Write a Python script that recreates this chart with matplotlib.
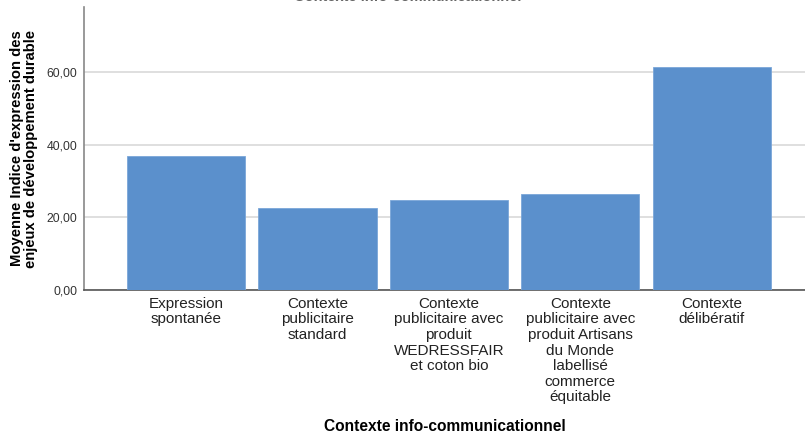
import matplotlib.pyplot as plt

plt.rcParams['font.family'] = ['Liberation Sans', 'DejaVu Sans']

# categories and mean values
categories = [
    "Expression\nspontanée",
    "Contexte\npublicitaire\nstandard",
    "Contexte\npublicitaire avec\nproduit\nWEDRESSFAIR\net coton bio",
    "Contexte\npublicitaire avec\nproduit Artisans\ndu Monde\nlabellisé\ncommerce\néquitable",
    "Contexte\ndélibératif",
]
means = [36.8, 22.7, 24.8, 26.4, 61.6]
yticks = [0, 20, 40, 60]
ytick_labels = ["0,00", "20,00", "40,00", "60,00"]

fig = plt.figure(figsize=(8.05, 4.38), dpi=100)
ax = fig.add_axes([0.1043, 0.3379, 0.8957, 0.6461])

x = range(len(categories))
ax.bar(x, means, width=0.9, color='#5b90cc', edgecolor='#7aa6d8', linewidth=0.6, zorder=3)

ax.set_xlim(-0.776, 4.71)
ax.set_ylim(0, 78)
ax.set_yticks(yticks)
ax.set_yticklabels(ytick_labels, fontsize=8.8, color='#333333')
ax.set_xticks(list(x))
ax.set_xticklabels(categories, fontsize=11, color='#222222', linespacing=1.14)
ax.tick_params(axis='both', length=0)
ax.tick_params(axis='x', pad=5)
ax.tick_params(axis='y', pad=5)

ax.yaxis.grid(True, color='#d9d9d9', linewidth=1.2, zorder=0)
ax.set_axisbelow(True)
for s in ['top', 'right']:
    ax.spines[s].set_visible(False)
ax.spines['left'].set_color('#888888')
ax.spines['bottom'].set_color('#555555')
ax.spines['left'].set_linewidth(1.2)
ax.spines['bottom'].set_linewidth(1.2)

ax.set_xlabel("Contexte info-communicationnel", fontsize=11.2, fontweight='bold', labelpad=11)
ax.set_ylabel("Moyenne Indice d'expression des\nenjeux de développement durable",
              fontsize=10.6, fontweight='bold', linespacing=1.0, labelpad=6)

# title cut off at the top edge of the picture
fig.text(0.507, 1.007, "Contexte info-communicationnel", ha='center', va='center',
         fontsize=10.5, fontweight='bold', color='#666666')

fig.savefig("out.png", dpi=100)
